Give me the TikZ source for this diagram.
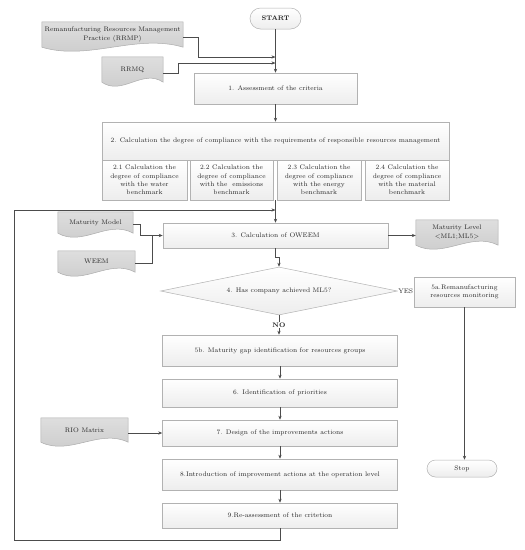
\documentclass[tikz,border=0pt]{standalone}
\usetikzlibrary{shapes.geometric,calc,arrows.meta,backgrounds}
\newcommand\drawdoc[1]{%
\begin{pgfonlayer}{background}
\path[docshape] (#1.north west) -- (#1.north east) -- (#1.south east)
 .. controls ($(#1.south west)!0.667!(#1.south east)+(0,-14)$) and ($(#1.south west)!0.333!(#1.south east)+(0,14)$) .. (#1.south west) -- cycle;
\end{pgfonlayer}}
\tikzset{
  every node/.style={font=\fontsize{6.6}{8.4}\selectfont, text=black!85},
  box/.style={draw=gray!60, line width=0.5pt, top color=white, bottom color=gray!14, inner sep=1pt, align=center},
  termbox/.style={box},
  docnode/.style={inner sep=0pt, align=center},
  docshape/.style={draw=gray!65, line width=0.5pt, top color=gray!26, bottom color=gray!42},
  conn/.style={draw=black!70, line width=0.6pt},
  arr/.style={conn, -{Stealth[length=4pt,width=3.2pt]}},
  lbl/.style={fill=white, inner sep=0.6pt}
}
\begin{document}
\begin{tikzpicture}[x=1pt,y=-1pt]
\useasboundingbox (0,0) rectangle (525,550);
% terminals
\node[termbox, rounded corners=10.5pt, minimum width=51pt, minimum height=21pt] (start) at (275.5,18.5) {\textbf{START}};
\node[termbox, rounded corners=8.5pt, minimum width=70pt, minimum height=17pt] (stop) at (462,468.5) {Stop};
% documents
\node[docnode, minimum width=141pt, minimum height=25pt] (rrmp) at (112.5,34.5) {Remanufacturing Resources Management\\Practice (RRMP)};
\node[docnode, minimum width=61pt, minimum height=25pt] (rrmq) at (132.5,69.5) {RRMQ};
\node[docnode, minimum width=75pt, minimum height=21pt] (mm) at (95.5,222.5) {Maturity Model};
\node[docnode, minimum width=77pt, minimum height=21pt] (weem) at (96.5,261.5) {WEEM};
\node[docnode, minimum width=82pt, minimum height=25pt] (ml) at (457,232.5) {Maturity Level\\<ML1;ML5>};
\node[docnode, minimum width=87pt, minimum height=24pt] (rio) at (84.5,430) {RIO Matrix};
\drawdoc{rrmp}\drawdoc{rrmq}\drawdoc{mm}\drawdoc{weem}\drawdoc{ml}\drawdoc{rio}
% process boxes
\node[box, minimum width=163pt, minimum height=31pt] (b1) at (275.5,88.5) {1. Assessment of the criteria};
\node[box, minimum width=347pt, minimum height=38pt] (b2) at (275.5,141) {2. Calculation the degree of compliance with the requirements of responsible resources management};
\node[box, minimum width=85pt, minimum height=40pt] (s1) at (144.5,180) {2.1 Calculation the\\degree of compliance\\with the water\\benchmark};
\node[box, minimum width=83pt, minimum height=40pt] (s2) at (231.5,180) {2.2 Calculation the\\degree of compliance\\with the\ \ emissions\\benchmark};
\node[box, minimum width=84pt, minimum height=40pt] (s3) at (319,180) {2.3 Calculation the\\degree of compliance\\with the energy\\benchmark};
\node[box, minimum width=84pt, minimum height=40pt] (s4) at (407,180) {2.4 Calculation the\\degree of compliance\\with the material\\benchmark};
\node[box, minimum width=225pt, minimum height=25pt] (b3) at (275.5,235.5) {3. Calculation of OWEEM};
\node[box, diamond, shape aspect=4.9, inner sep=0pt, minimum width=237pt, minimum height=48pt] (dia) at (279,291) {4. Has company achieved ML5?};
\node[box, minimum width=101pt, minimum height=30pt] (b5a) at (464.5,292) {5a.Remanufacturing\\resources monitoring};
\node[box, minimum width=235pt, minimum height=31pt] (b5b) at (280,350.5) {5b. Maturity gap identification for resources groups};
\node[box, minimum width=235pt, minimum height=28pt] (b6) at (280,393) {6. Identification of priorities};
\node[box, minimum width=235pt, minimum height=26pt] (b7) at (280,433) {7. Design of the improvements actions};
\node[box, minimum width=235pt, minimum height=31pt] (b8) at (280,474.5) {8.Introduction of improvement actions at the operation level};
\node[box, minimum width=235pt, minimum height=25pt] (b9) at (280,515.5) {9.Re-assessment of the critetion};
% connectors
\draw[arr] (start) -- (b1);
\coordinate (rrmpout) at ($(rrmp.east)+(0,2.5)$);
\coordinate (j1) at (198,57);
\draw[arr] (rrmpout) -| (j1) -- (j1 -| start.south);
\coordinate (rrmqout) at ($(rrmq.east)+(0,3.5)$);
\coordinate (j2) at (178,63);
\draw[arr] (rrmqout) -| (j2) -- (j2 -| start.south);
\draw[arr] (b1) -- (b2);
\draw[arr] (b3.north |- s2.south) -- (b3.north);
\coordinate (mmout) at ($(mm.east)+(0,1.5)$);
\coordinate (j3) at (140,235.5);
\draw[arr] (mmout) -| (j3) -- (b3.west);
\coordinate (weemout) at ($(weem.east)+(0,1.5)$);
\coordinate (j4) at (152,235.5);
\draw[conn] (weemout) -| (j4);
\draw[arr] (b3.east) -- (b3.east -| ml.west);
\draw[arr] (b3.south) -- ++(0,9) -| (dia.north);
\draw[conn] (dia.east) -- node[lbl]{YES} (dia.east -| b5a.west);
\draw[arr] (b5a.south) -- (b5a.south |- stop.north);
\draw[arr] (dia.south) -- node[lbl]{\textbf{NO}} (dia.south |- b5b.north);
\draw[arr] (b5b) -- (b6);
\draw[arr] (b6) -- (b7);
\draw[arr] (b7) -- (b8);
\draw[arr] (b8) -- (b9);
\coordinate (rioout) at ($(rio.east)+(0,3)$);
\draw[arr] (rioout) -- (rioout -| b7.west);
\coordinate (lpb) at (14,540);
\coordinate (lpt) at (14,210);
\draw[arr] (b9.south) |- (lpb) -- (lpt) -- (lpt -| b3.north);
\end{tikzpicture}
\end{document}
